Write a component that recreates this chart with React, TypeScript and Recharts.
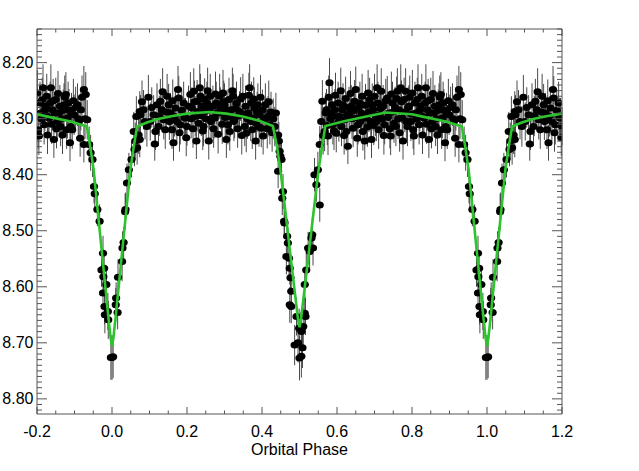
import React from 'react';
import { ComposedChart, Scatter, Line, XAxis, YAxis, ErrorBar, Label } from 'recharts';

// Observations: [orbital phase (0..1), magnitude, error]
const primaryEgress: [number, number, number][] = [
  [0.000, 8.726, 0.040], [0.003, 8.725, 0.038], [0.010, 8.632, 0.030], [0.011, 8.620, 0.028],
  [0.015, 8.646, 0.030], [0.016, 8.583, 0.032], [0.027, 8.555, 0.035], [0.028, 8.531, 0.030],
  [0.031, 8.521, 0.028], [0.035, 8.466, 0.032], [0.036, 8.462, 0.030], [0.040, 8.415, 0.035],
  [0.045, 8.391, 0.030], [0.052, 8.373, 0.032], [0.058, 8.323, 0.035], [0.060, 8.355, 0.030],
  [0.062, 8.340, 0.033], [0.065, 8.296, 0.036], [0.067, 8.352, 0.030], [0.071, 8.329, 0.034],
  [0.074, 8.337, 0.032], [0.074, 8.287, 0.036], [0.076, 8.293, 0.035],
];

const maxPhaseA: [number, number, number][] = [
  [0.080, 8.270, 0.038], [0.084, 8.284, 0.035], [0.088, 8.305, 0.032], [0.093, 8.314, 0.036],
  [0.097, 8.262, 0.040], [0.102, 8.305, 0.034], [0.106, 8.280, 0.036], [0.111, 8.293, 0.035],
  [0.114, 8.345, 0.030], [0.116, 8.323, 0.033], [0.120, 8.275, 0.038], [0.124, 8.314, 0.035],
  [0.126, 8.295, 0.036], [0.129, 8.269, 0.040], [0.133, 8.284, 0.036], [0.135, 8.252, 0.042],
  [0.138, 8.302, 0.035], [0.142, 8.320, 0.034], [0.145, 8.288, 0.036], [0.147, 8.260, 0.040],
  [0.151, 8.275, 0.037], [0.153, 8.305, 0.033], [0.156, 8.290, 0.036], [0.160, 8.320, 0.034],
  [0.162, 8.268, 0.038], [0.164, 8.343, 0.032], [0.167, 8.296, 0.036], [0.169, 8.281, 0.037],
  [0.173, 8.305, 0.035], [0.176, 8.248, 0.042], [0.178, 8.263, 0.039], [0.180, 8.325, 0.034],
  [0.182, 8.311, 0.035], [0.186, 8.285, 0.036], [0.191, 8.272, 0.038], [0.193, 8.298, 0.035],
  [0.196, 8.299, 0.036], [0.198, 8.334, 0.033], [0.200, 8.314, 0.034], [0.204, 8.278, 0.037],
  [0.209, 8.257, 0.040], [0.211, 8.300, 0.035], [0.213, 8.281, 0.037], [0.216, 8.318, 0.034],
  [0.218, 8.251, 0.041], [0.220, 8.270, 0.038], [0.222, 8.296, 0.036], [0.225, 8.340, 0.032],
  [0.227, 8.269, 0.038], [0.229, 8.287, 0.036], [0.231, 8.308, 0.035], [0.234, 8.245, 0.042],
  [0.236, 8.260, 0.040], [0.238, 8.295, 0.036], [0.240, 8.278, 0.037], [0.242, 8.322, 0.034],
  [0.244, 8.314, 0.035], [0.247, 8.266, 0.038], [0.249, 8.287, 0.036], [0.251, 8.300, 0.035],
  [0.253, 8.272, 0.038], [0.255, 8.250, 0.041], [0.258, 8.340, 0.033], [0.260, 8.282, 0.037],
  [0.262, 8.260, 0.040], [0.264, 8.305, 0.035], [0.267, 8.299, 0.036], [0.269, 8.278, 0.037],
  [0.271, 8.318, 0.034], [0.274, 8.299, 0.036], [0.276, 8.256, 0.040], [0.278, 8.272, 0.038],
  [0.280, 8.290, 0.036], [0.283, 8.328, 0.034], [0.287, 8.260, 0.040], [0.289, 8.281, 0.037],
  [0.292, 8.290, 0.036], [0.294, 8.310, 0.035], [0.296, 8.254, 0.041], [0.298, 8.270, 0.038],
  [0.300, 8.275, 0.038], [0.302, 8.298, 0.036], [0.305, 8.337, 0.033], [0.307, 8.285, 0.037],
  [0.309, 8.311, 0.035], [0.312, 8.266, 0.039], [0.314, 8.323, 0.034], [0.316, 8.296, 0.036],
  [0.318, 8.284, 0.037], [0.321, 8.250, 0.041], [0.323, 8.260, 0.040], [0.325, 8.305, 0.035],
  [0.327, 8.299, 0.036], [0.330, 8.282, 0.037], [0.332, 8.272, 0.038], [0.335, 8.318, 0.034],
  [0.338, 8.295, 0.036], [0.340, 8.287, 0.036], [0.343, 8.265, 0.039], [0.346, 8.330, 0.034],
  [0.349, 8.260, 0.040], [0.351, 8.292, 0.036], [0.354, 8.314, 0.035], [0.356, 8.278, 0.037],
  [0.358, 8.326, 0.034], [0.361, 8.300, 0.036], [0.363, 8.290, 0.036], [0.365, 8.258, 0.040],
  [0.367, 8.245, 0.042], [0.370, 8.305, 0.035], [0.372, 8.272, 0.038], [0.374, 8.320, 0.034],
  [0.376, 8.299, 0.036], [0.378, 8.265, 0.039], [0.380, 8.281, 0.037], [0.383, 8.340, 0.033],
  [0.385, 8.308, 0.035], [0.387, 8.288, 0.036], [0.389, 8.275, 0.038], [0.392, 8.315, 0.035],
  [0.394, 8.293, 0.036], [0.396, 8.262, 0.040], [0.398, 8.317, 0.034], [0.401, 8.285, 0.037],
  [0.403, 8.331, 0.033], [0.406, 8.300, 0.036], [0.409, 8.275, 0.038], [0.412, 8.299, 0.036],
  [0.414, 8.318, 0.035], [0.416, 8.296, 0.036], [0.418, 8.270, 0.038], [0.421, 8.311, 0.035],
  [0.424, 8.288, 0.036], [0.427, 8.325, 0.034], [0.430, 8.300, 0.036], [0.434, 8.314, 0.035],
  [0.437, 8.290, 0.036], [0.443, 8.329, 0.034], [0.445, 8.340, 0.034], [0.447, 8.358, 0.033],
  [0.449, 8.367, 0.032], [0.452, 8.373, 0.032],
];

const secondaryEclipse: [number, number, number][] = [
  [0.443, 8.394, 0.030], [0.454, 8.442, 0.030], [0.456, 8.430, 0.031], [0.459, 8.483, 0.030],
  [0.460, 8.486, 0.028], [0.467, 8.510, 0.030], [0.469, 8.522, 0.028], [0.465, 8.546, 0.032],
  [0.472, 8.549, 0.030], [0.474, 8.567, 0.029], [0.476, 8.584, 0.031], [0.478, 8.608, 0.030],
  [0.474, 8.632, 0.032], [0.478, 8.635, 0.030], [0.492, 8.653, 0.034], [0.487, 8.704, 0.036],
  [0.496, 8.700, 0.035], [0.499, 8.674, 0.035], [0.500, 8.727, 0.040], [0.505, 8.680, 0.036],
  [0.505, 8.724, 0.038], [0.508, 8.709, 0.036], [0.510, 8.671, 0.034], [0.514, 8.647, 0.032],
  [0.516, 8.653, 0.033], [0.514, 8.596, 0.030], [0.518, 8.570, 0.030], [0.523, 8.531, 0.029],
  [0.527, 8.537, 0.030], [0.532, 8.513, 0.028], [0.534, 8.507, 0.030], [0.536, 8.531, 0.031],
  [0.540, 8.400, 0.030], [0.545, 8.418, 0.030], [0.549, 8.391, 0.032], [0.554, 8.454, 0.030],
  [0.554, 8.346, 0.033], [0.558, 8.305, 0.036], [0.561, 8.269, 0.038], [0.563, 8.330, 0.034],
];

const maxPhaseB: [number, number, number][] = [
  [0.567, 8.323, 0.035], [0.570, 8.290, 0.036], [0.572, 8.284, 0.037], [0.574, 8.312, 0.035],
  [0.576, 8.331, 0.034], [0.578, 8.262, 0.039], [0.580, 8.236, 0.044], [0.583, 8.300, 0.036],
  [0.585, 8.290, 0.036], [0.587, 8.275, 0.038], [0.589, 8.311, 0.035], [0.592, 8.322, 0.034],
  [0.594, 8.284, 0.037], [0.596, 8.258, 0.040], [0.598, 8.326, 0.034], [0.601, 8.296, 0.036],
  [0.603, 8.272, 0.038], [0.605, 8.306, 0.035], [0.607, 8.296, 0.036], [0.610, 8.250, 0.041],
  [0.612, 8.314, 0.035], [0.614, 8.284, 0.037], [0.616, 8.275, 0.038], [0.619, 8.330, 0.034],
  [0.621, 8.302, 0.035], [0.623, 8.264, 0.039], [0.625, 8.323, 0.034], [0.627, 8.292, 0.036],
  [0.629, 8.349, 0.032], [0.632, 8.280, 0.037], [0.634, 8.290, 0.036], [0.636, 8.255, 0.040],
  [0.638, 8.278, 0.038], [0.640, 8.300, 0.036], [0.643, 8.317, 0.034], [0.645, 8.286, 0.037],
  [0.647, 8.269, 0.038], [0.650, 8.248, 0.041], [0.652, 8.299, 0.036], [0.654, 8.335, 0.033],
  [0.656, 8.311, 0.035], [0.658, 8.280, 0.037], [0.661, 8.272, 0.038], [0.663, 8.305, 0.035],
  [0.665, 8.290, 0.036], [0.667, 8.260, 0.040], [0.669, 8.323, 0.034], [0.672, 8.296, 0.036],
  [0.674, 8.340, 0.033], [0.676, 8.276, 0.038], [0.678, 8.299, 0.036], [0.681, 8.315, 0.035],
  [0.683, 8.254, 0.041], [0.685, 8.288, 0.036], [0.687, 8.266, 0.039], [0.690, 8.305, 0.035],
  [0.692, 8.337, 0.033], [0.694, 8.275, 0.038], [0.696, 8.284, 0.037], [0.698, 8.312, 0.035],
  [0.700, 8.260, 0.040], [0.703, 8.295, 0.036], [0.705, 8.305, 0.035], [0.707, 8.245, 0.042],
  [0.709, 8.272, 0.038], [0.711, 8.320, 0.034], [0.714, 8.293, 0.036], [0.716, 8.282, 0.037],
  [0.718, 8.251, 0.041], [0.720, 8.300, 0.036], [0.723, 8.278, 0.038], [0.725, 8.330, 0.034],
  [0.727, 8.311, 0.035], [0.730, 8.268, 0.039], [0.734, 8.263, 0.039], [0.736, 8.298, 0.036],
  [0.739, 8.290, 0.036], [0.741, 8.318, 0.035], [0.743, 8.331, 0.034], [0.745, 8.256, 0.040],
  [0.748, 8.272, 0.038], [0.750, 8.288, 0.036], [0.752, 8.308, 0.035], [0.755, 8.280, 0.037],
  [0.757, 8.314, 0.035], [0.759, 8.264, 0.039], [0.761, 8.251, 0.041], [0.763, 8.300, 0.036],
  [0.765, 8.284, 0.037], [0.767, 8.325, 0.034], [0.770, 8.245, 0.042], [0.772, 8.270, 0.038],
  [0.774, 8.299, 0.036], [0.776, 8.340, 0.033], [0.779, 8.266, 0.039], [0.781, 8.288, 0.036],
  [0.783, 8.251, 0.041], [0.785, 8.305, 0.035], [0.788, 8.314, 0.035], [0.790, 8.280, 0.037],
  [0.792, 8.278, 0.038], [0.794, 8.262, 0.039], [0.797, 8.305, 0.035], [0.799, 8.292, 0.036],
  [0.801, 8.254, 0.041], [0.803, 8.320, 0.034], [0.805, 8.331, 0.034], [0.808, 8.272, 0.038],
  [0.810, 8.290, 0.036], [0.812, 8.300, 0.036], [0.814, 8.266, 0.039], [0.816, 8.245, 0.042],
  [0.819, 8.311, 0.035], [0.821, 8.285, 0.037], [0.823, 8.278, 0.038], [0.826, 8.260, 0.040],
  [0.828, 8.329, 0.034], [0.830, 8.296, 0.036], [0.832, 8.299, 0.036], [0.835, 8.272, 0.038],
  [0.837, 8.245, 0.042], [0.839, 8.310, 0.035], [0.841, 8.284, 0.037], [0.843, 8.268, 0.039],
  [0.845, 8.337, 0.033], [0.848, 8.290, 0.036], [0.850, 8.266, 0.039], [0.852, 8.318, 0.035],
  [0.854, 8.305, 0.035], [0.856, 8.255, 0.040], [0.859, 8.290, 0.036], [0.861, 8.278, 0.038],
  [0.863, 8.314, 0.035], [0.865, 8.300, 0.036], [0.868, 8.329, 0.034], [0.870, 8.285, 0.037],
  [0.872, 8.275, 0.038], [0.874, 8.262, 0.039], [0.877, 8.257, 0.040], [0.879, 8.320, 0.034],
  [0.881, 8.299, 0.036], [0.883, 8.272, 0.038], [0.885, 8.284, 0.037], [0.888, 8.343, 0.033],
  [0.890, 8.314, 0.035], [0.892, 8.290, 0.036], [0.894, 8.320, 0.034], [0.897, 8.268, 0.039],
  [0.899, 8.293, 0.036], [0.903, 8.280, 0.037], [0.908, 8.275, 0.038], [0.910, 8.300, 0.036],
  [0.912, 8.305, 0.035], [0.915, 8.335, 0.033], [0.917, 8.284, 0.037], [0.920, 8.262, 0.039],
  [0.925, 8.248, 0.042], [0.925, 8.346, 0.032], [0.928, 8.300, 0.036], [0.930, 8.257, 0.040],
  [0.934, 8.302, 0.035],
];

const primaryIngress: [number, number, number][] = [
  [0.939, 8.346, 0.032], [0.943, 8.361, 0.032], [0.948, 8.373, 0.031], [0.952, 8.421, 0.030],
  [0.954, 8.434, 0.030], [0.961, 8.462, 0.030], [0.967, 8.483, 0.030], [0.972, 8.570, 0.030],
  [0.976, 8.540, 0.031], [0.979, 8.567, 0.030], [0.977, 8.582, 0.030], [0.985, 8.596, 0.032],
  [0.976, 8.611, 0.031], [0.980, 8.635, 0.032], [0.981, 8.650, 0.033], [0.989, 8.644, 0.033],
  [0.990, 8.659, 0.034], [0.997, 8.726, 0.040],
];

// Light-curve model: [orbital phase, magnitude]
const modelCurve: [number, number][] = [
  [0.000, 8.706], [0.004, 8.690], [0.010, 8.652], [0.020, 8.585], [0.030, 8.518],
  [0.040, 8.451], [0.049, 8.391], [0.058, 8.350], [0.067, 8.314], [0.093, 8.307],
  [0.120, 8.301], [0.154, 8.296], [0.200, 8.291], [0.260, 8.288], [0.305, 8.291],
  [0.349, 8.296], [0.394, 8.304], [0.429, 8.313], [0.440, 8.350], [0.449, 8.391],
  [0.460, 8.452], [0.470, 8.510], [0.480, 8.567], [0.490, 8.624], [0.496, 8.658],
  [0.500, 8.672], [0.504, 8.658], [0.510, 8.624], [0.520, 8.567], [0.530, 8.510],
  [0.540, 8.452], [0.551, 8.391], [0.560, 8.350], [0.569, 8.313], [0.616, 8.305],
  [0.678, 8.296], [0.730, 8.289], [0.800, 8.292], [0.819, 8.295], [0.890, 8.305],
  [0.933, 8.314], [0.942, 8.350], [0.951, 8.391], [0.960, 8.451], [0.970, 8.518],
  [0.980, 8.585], [0.990, 8.652], [0.996, 8.690],
];

const xMajorTicks = [-0.2, 0.0, 0.2, 0.4, 0.6, 0.8, 1.0, 1.2];
const xTickLabels = ['-0.2', '0.0', '0.2', '0.4', '0.6', '0.8', '1.0', '1.2'];
const yMajorTicks = [8.2, 8.3, 8.4, 8.5, 8.6, 8.7, 8.8];
const yTickLabels = ['8.20', '8.30', '8.40', '8.50', '8.60', '8.70', '8.80'];
const xLabel = 'Orbital Phase';

const X_DOMAIN: [number, number] = [-0.2, 1.2];
const Y_DOMAIN: [number, number] = [8.14, 8.827];

const xTicks: number[] = [];
for (let k = 0; k <= 28; k++) xTicks.push(Math.round((-0.2 + k * 0.05) * 1e6) / 1e6);
const yTicks: number[] = [];
for (let k = 0; k <= 68; k++) {
  const v = Math.round((8.14 + k * 0.01) * 1e6) / 1e6;
  if (v <= Y_DOMAIN[1]) yTicks.push(v);
}

// Phase-folded: repeat points within 0.2 of the edges on the other side
const allObs = [...primaryEgress, ...maxPhaseA, ...secondaryEclipse, ...maxPhaseB, ...primaryIngress];
const obsData: { x: number; y: number; e: number }[] = [];
allObs.forEach(([p, m, e]) => {
  obsData.push({ x: p, y: m, e });
  if (p >= 0.8) obsData.push({ x: p - 1, y: m, e });
  if (p <= 0.2) obsData.push({ x: p + 1, y: m, e });
});

const modelData: { x: number; y: number }[] = [];
modelCurve.forEach(([p, m]) => {
  modelData.push({ x: p, y: m });
  if (p >= 0.8) modelData.push({ x: Math.round((p - 1) * 1e6) / 1e6, y: m });
  if (p <= 0.2) modelData.push({ x: Math.round((p + 1) * 1e6) / 1e6, y: m });
});
modelData.sort((a, b) => a.x - b.x);

const AX = '#555';
const FONT = '"Liberation Sans", Arial, Helvetica, sans-serif';
const W = 639;
const H = 471;

function labelFor(v: number, majors: number[], labels: string[]): string | null {
  const i = majors.findIndex((m) => Math.abs(m - v) < 1e-6);
  return i >= 0 ? labels[i] : null;
}

const BottomTick = (p: any) => {
  const lab = labelFor(p.payload.value, xMajorTicks, xTickLabels);
  const len = lab ? 7 : 3.5;
  return (
    <g>
      <line x1={p.x} x2={p.x} y1={p.y} y2={p.y - len} stroke={AX} strokeWidth={1} />
      {lab && (
        <text x={p.x} y={p.y + 17} textAnchor="middle" dominantBaseline="central" fontSize={16} fontFamily={FONT} fill="#000">
          {lab}
        </text>
      )}
    </g>
  );
};

const TopTick = (p: any) => {
  const lab = labelFor(p.payload.value, xMajorTicks, xTickLabels);
  const len = lab ? 7 : 3.5;
  return <line x1={p.x} x2={p.x} y1={p.y} y2={p.y + len} stroke={AX} strokeWidth={1} />;
};

const LeftTick = (p: any) => {
  const lab = labelFor(p.payload.value, yMajorTicks, yTickLabels);
  const len = lab ? 10 : 5;
  return (
    <g>
      <line x1={p.x} x2={p.x + len} y1={p.y} y2={p.y} stroke={AX} strokeWidth={1} />
      {lab && (
        <text x={p.x - 3.5} y={p.y} textAnchor="end" dominantBaseline="central" fontSize={16} fontFamily={FONT} fill="#000">
          {lab}
        </text>
      )}
    </g>
  );
};

const RightTick = (p: any) => {
  const lab = labelFor(p.payload.value, yMajorTicks, yTickLabels);
  const len = lab ? 10 : 5;
  return <line x1={p.x} x2={p.x - len} y1={p.y} y2={p.y} stroke={AX} strokeWidth={1} />;
};

const Dot = (p: any) => {
  if (p.cx == null || p.cy == null) return <g />;
  return <ellipse cx={p.cx} cy={p.cy} rx={4.1} ry={3.5} fill="#000" />;
};

export default function App() {
  return (
    <div style={{ position: 'absolute', left: 0, top: 0, width: W, height: H, background: '#fff' }}>
      {/* Observations with bottom / left axes */}
      <div style={{ position: 'absolute', left: 0, top: 0 }}>
        <ComposedChart width={W} height={H} margin={{ top: 29, right: 77, bottom: 0, left: 0 }}>
          <XAxis
            xAxisId="b"
            dataKey="x"
            type="number"
            domain={X_DOMAIN}
            allowDataOverflow
            ticks={xTicks}
            interval={0}
            tickSize={0}
            tickMargin={0}
            tickLine={false}
            axisLine={{ stroke: AX, strokeWidth: 1 }}
            tick={(p: any) => <BottomTick {...p} />}
            height={57}
          >
            <Label value={xLabel} position="insideBottom" offset={16} style={{ fontSize: 16, fontFamily: FONT, fill: '#000' }} />
          </XAxis>
          <YAxis
            yAxisId="l"
            dataKey="y"
            type="number"
            domain={Y_DOMAIN}
            reversed
            allowDataOverflow
            ticks={yTicks}
            interval={0}
            tickSize={0}
            tickMargin={0}
            tickLine={false}
            axisLine={{ stroke: AX, strokeWidth: 1 }}
            tick={(p: any) => <LeftTick {...p} />}
            width={37}
          />
          <Scatter data={obsData} xAxisId="b" yAxisId="l" dataKey="y" isAnimationActive={false} shape={(p: any) => <Dot {...p} />}>
            <ErrorBar dataKey="e" direction="y" width={0} stroke="#4a4a4a" strokeWidth={1} />
          </Scatter>
        </ComposedChart>
      </div>
      {/* Model curve on top, with top / right axes */}
      <div style={{ position: 'absolute', left: 0, top: 0 }}>
        <ComposedChart width={W} height={H} margin={{ top: 28, right: 76, bottom: 57, left: 37 }}>
          <XAxis
            xAxisId="t"
            dataKey="x"
            orientation="top"
            type="number"
            domain={X_DOMAIN}
            allowDataOverflow
            ticks={xTicks}
            interval={0}
            tickSize={0}
            tickMargin={0}
            tickLine={false}
            axisLine={{ stroke: AX, strokeWidth: 1 }}
            tick={(p: any) => <TopTick {...p} />}
            height={1}
          />
          <YAxis
            yAxisId="r"
            dataKey="y"
            orientation="right"
            type="number"
            domain={Y_DOMAIN}
            reversed
            allowDataOverflow
            ticks={yTicks}
            interval={0}
            tickSize={0}
            tickMargin={0}
            tickLine={false}
            axisLine={{ stroke: AX, strokeWidth: 1 }}
            tick={(p: any) => <RightTick {...p} />}
            width={1}
          />
          <Line
            data={modelData}
            xAxisId="t"
            yAxisId="r"
            dataKey="y"
            type="linear"
            stroke="#2ec42e"
            strokeWidth={2.6}
            dot={false}
            activeDot={false}
            isAnimationActive={false}
          />
        </ComposedChart>
      </div>
    </div>
  );
}
